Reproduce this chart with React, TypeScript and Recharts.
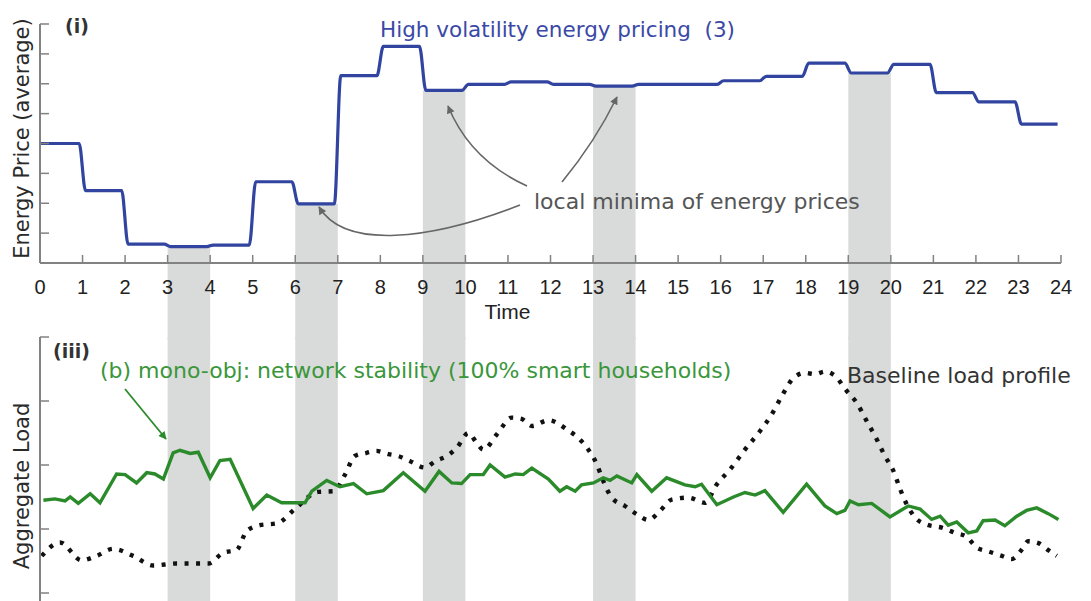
import { LineChart, Line, XAxis, YAxis, ReferenceArea, Label } from "recharts";

// average energy price per hour (hour 0..23)
const priceHours = [0, 1, 2, 3, 4, 5, 6, 7, 8, 9, 10, 11, 12, 13, 14, 15, 16, 17, 18, 19, 20, 21, 22, 23];
const hourlyPrice = [
  4.0, 2.42, 0.63, 0.55, 0.6, 2.72, 1.98, 6.27, 7.25, 5.78, 5.98, 6.06,
  5.98, 5.92, 5.98, 5.98, 6.1, 6.25, 6.69, 6.36, 6.65, 5.7, 5.39, 4.65,
];

// hours where the price has a local minimum (shaded windows)
const minimaStarts = [3, 6, 9, 13, 19];

const hourTicks = [0, 1, 2, 3, 4, 5, 6, 7, 8, 9, 10, 11, 12, 13, 14, 15, 16, 17, 18, 19, 20, 21, 22, 23, 24];
const priceTicks = [0, 1, 2, 3, 4, 5, 6, 7, 8];
const loadTicks = [0, 1, 2, 3, 4];

// (b) mono-obj: network stability, 100% smart households
const smartTimes = [
  0.08, 0.35, 0.59, 0.71, 0.9, 1.18, 1.41, 1.8, 2.0, 2.27, 2.51, 2.7, 2.9, 3.13, 3.29, 3.53, 3.72, 4.0,
  4.23, 4.47, 5.01, 5.33, 5.68, 6.23, 6.39, 6.74, 7.05, 7.37, 7.68, 8.07, 8.54, 9.05, 9.38, 9.68, 9.91,
  10.11, 10.42, 10.58, 10.93, 11.17, 11.36, 11.56, 11.95, 12.22, 12.38, 12.58, 12.73, 13.01, 13.24,
  13.4, 13.56, 13.91, 14.03, 14.38, 14.73, 15.16, 15.4, 15.55, 15.91, 16.3, 16.57, 16.81, 17.04, 17.47,
  18.02, 18.45, 18.73, 18.92, 19.04, 19.24, 19.55, 19.98, 20.41, 20.69, 20.96, 21.16, 21.35, 21.55,
  21.82, 22.02, 22.17, 22.45, 22.68, 22.96, 23.19, 23.43, 23.7, 23.94,
];
const smartLoad = [
  1.45, 1.47, 1.44, 1.5, 1.4, 1.55, 1.41, 1.86, 1.85, 1.72, 1.88, 1.86, 1.78, 2.19, 2.23, 2.18, 2.2, 1.8,
  2.07, 2.09, 1.32, 1.53, 1.41, 1.41, 1.59, 1.76, 1.66, 1.71, 1.55, 1.6, 1.88, 1.59, 1.9, 1.72, 1.71,
  1.85, 1.85, 2.0, 1.81, 1.86, 1.85, 1.95, 1.78, 1.59, 1.66, 1.59, 1.69, 1.72, 1.8,
  1.76, 1.83, 1.72, 1.85, 1.59, 1.8, 1.69, 1.66, 1.7, 1.38, 1.5, 1.57, 1.53, 1.6, 1.26,
  1.7, 1.36, 1.24, 1.29, 1.44, 1.38, 1.4, 1.19, 1.36, 1.31, 1.15, 1.2, 1.06, 1.11,
  0.94, 0.97, 1.13, 1.14, 1.05, 1.2, 1.29, 1.33, 1.24, 1.15,
];

// baseline load profile
const baselineTimes = [
  0.04, 0.47, 0.98, 1.33, 1.72, 2.19, 2.66, 3.21, 3.96, 4.31, 4.62, 4.86, 5.17, 5.58, 5.99, 6.54, 6.9,
  7.17, 7.4, 7.68, 7.91, 8.19, 8.42, 8.7, 9.05, 9.29, 9.56, 9.8, 10.07, 10.26, 10.42, 10.74, 11.09,
  11.32, 11.56, 11.95, 12.42, 12.69, 12.89, 13.09, 13.24, 13.44, 13.75, 14.03, 14.3, 14.57, 14.85,
  15.24, 15.63, 15.91, 16.22, 16.57, 16.89, 17.2, 17.44, 17.71, 17.98, 18.22, 18.45, 18.69, 18.96,
  19.2, 19.43, 19.67, 19.86, 20.06, 20.22, 20.37, 20.57, 20.84, 21.2, 21.51, 21.78, 22.02, 22.29,
  22.61, 22.84, 23.08, 23.23, 23.47, 23.7, 23.9,
];
const baselineLoad = [
  0.58, 0.79, 0.51, 0.58, 0.69, 0.58, 0.43, 0.46, 0.46, 0.63, 0.67, 0.97, 1.06, 1.09, 1.31, 1.58, 1.59,
  1.85, 2.14, 2.19, 2.22, 2.17, 2.14, 2.06, 1.96, 2.06, 2.14, 2.27, 2.5, 2.35, 2.24, 2.48, 2.74,
  2.72, 2.61, 2.7, 2.54, 2.4, 2.24, 2.01, 1.75, 1.49, 1.36, 1.23, 1.14, 1.28, 1.46,
  1.49, 1.41, 1.7, 1.93, 2.24, 2.5, 2.79, 3.08, 3.36, 3.44, 3.42, 3.46, 3.39, 3.16,
  2.97, 2.69, 2.4, 2.14, 1.91, 1.62, 1.39, 1.18, 1.07, 1.02, 0.94, 0.88, 0.71, 0.65,
  0.58, 0.53, 0.68, 0.81, 0.78, 0.67, 0.58,
];

// each hourly price is held flat across its hour
const priceData = priceHours.flatMap((h, i) => [
  { t: i === 0 ? 0 : h + 0.07, price: hourlyPrice[i] },
  { t: h + 0.92, price: hourlyPrice[i] },
]);
const smartData = smartTimes.map((t, i) => ({ t, load: smartLoad[i] }));
const baselineData = baselineTimes.map((t, i) => ({ t, load: baselineLoad[i] }));

const TEXT_FONT = "'DejaVu Sans', sans-serif";
const TICK_FONT = "'Liberation Sans', Arial, sans-serif";
const BLUE = "#3044a0";
const GREEN = "#2b8b2b";
const BAND = "#d9dbda";
const AXIS = "#828282";
const noLabel = () => "";

export default function App() {
  return (
    <div
      style={{
        position: "absolute",
        left: 0,
        top: 0,
        width: 1091,
        height: 601,
        background: "#fff",
        overflow: "hidden",
      }}
    >
      {/* (iii) aggregate load */}
      <div style={{ position: "absolute", left: 0, top: 330 }}>
        <LineChart width={1091} height={271} margin={{ top: 7, right: 30, bottom: 0, left: 0 }}>
          {minimaStarts.map((h) => (
            <ReferenceArea key={h} x1={h} x2={h + 1} fill={BAND} fillOpacity={1} stroke="none" />
          ))}
          <XAxis dataKey="t" type="number" domain={[0, 24]} hide />
          <YAxis
            type="number"
            domain={[-0.125, 4]}
            ticks={loadTicks}
            width={40}
            tickFormatter={noLabel}
            tickSize={-9}
            axisLine={{ stroke: AXIS, strokeWidth: 2 }}
            tickLine={{ stroke: AXIS, strokeWidth: 1.5 }}
          >
            <Label
              value="Aggregate Load"
              angle={-90}
              position="insideLeft"
              offset={22}
              dy={17}
              style={{ textAnchor: "middle", fontFamily: TEXT_FONT, fontSize: 21, fill: "#2a2a2a" }}
            />
          </YAxis>
          <Line
            data={baselineData}
            dataKey="load"
            type="monotone"
            stroke="#111"
            strokeWidth={4.4}
            strokeDasharray="4 7.5"
            dot={false}
            isAnimationActive={false}
          />
          <Line
            data={smartData}
            dataKey="load"
            type="linear"
            stroke={GREEN}
            strokeWidth={3.4}
            dot={false}
            isAnimationActive={false}
          />
        </LineChart>
      </div>

      {/* (i) energy price */}
      <div style={{ position: "absolute", left: 0, top: 0 }}>
        <LineChart width={1091} height={340} margin={{ top: 24, right: 30, bottom: 0, left: 0 }}>
          {minimaStarts.map((h) => (
            <ReferenceArea
              key={h}
              x1={h}
              x2={h + 1}
              y1={-2.6}
              y2={hourlyPrice[h]}
              ifOverflow="visible"
              fill={BAND}
              fillOpacity={1}
              stroke="none"
            />
          ))}
          <XAxis
            dataKey="t"
            type="number"
            domain={[0, 24]}
            ticks={hourTicks}
            interval={0}
            height={77}
            tickSize={-8}
            tickMargin={25}
            axisLine={{ stroke: AXIS, strokeWidth: 2 }}
            tickLine={{ stroke: AXIS, strokeWidth: 1.5 }}
            tick={{ fontFamily: TICK_FONT, fontSize: 20, fill: "#222" }}
          >
            <Label
              value="Time"
              position="insideTop"
              offset={41}
              dx={-43}
              style={{ fontFamily: TICK_FONT, fontSize: 21, fill: "#222" }}
            />
          </XAxis>
          <YAxis
            type="number"
            domain={[0, 8]}
            ticks={priceTicks}
            width={40}
            tickFormatter={noLabel}
            tickSize={-9}
            axisLine={{ stroke: AXIS, strokeWidth: 2 }}
            tickLine={{ stroke: AXIS, strokeWidth: 1.5 }}
          >
            <Label
              value="Energy Price (average)"
              angle={-90}
              position="insideLeft"
              offset={22}
              dy={-5}
              style={{ textAnchor: "middle", fontFamily: TEXT_FONT, fontSize: 21, fill: "#2a2a2a" }}
            />
          </YAxis>
          <Line
            data={priceData}
            dataKey="price"
            type="monotone"
            stroke={BLUE}
            strokeWidth={3.2}
            dot={false}
            isAnimationActive={false}
          />
        </LineChart>
      </div>

      {/* annotations */}
      <svg
        width={1091}
        height={601}
        style={{ position: "absolute", left: 0, top: 0, pointerEvents: "none" }}
      >
        <defs>
          <marker id="greyHead" viewBox="0 0 10 10" refX="9" refY="5" markerWidth="11" markerHeight="8" markerUnits="userSpaceOnUse" orient="auto">
            <path d="M0,0 L10,5 L0,10 z" fill="#666" />
          </marker>
          <marker id="greenHead" viewBox="0 0 10 10" refX="9" refY="5" markerWidth="11" markerHeight="8" markerUnits="userSpaceOnUse" orient="auto">
            <path d="M0,0 L10,5 L0,10 z" fill={GREEN} />
          </marker>
        </defs>
        <g fontFamily={TEXT_FONT}>
          <text x={65} y={33} fontSize={19} fontWeight="bold" fill="#333">(i)</text>
          <text x={380} y={37} fontSize={21.5} fill="#3a49a6" xmlSpace="preserve">High volatility energy pricing  (3)</text>
          <text x={534} y={209} fontSize={22} fill="#555">local minima of energy prices</text>
          <path d="M527,186 Q470,160 448,106" fill="none" stroke="#666" strokeWidth={1.6} markerEnd="url(#greyHead)" />
          <path d="M562,182 Q595,142 617,97" fill="none" stroke="#666" strokeWidth={1.6} markerEnd="url(#greyHead)" />
          <path d="M520,205 C430,240 345,250 319,207" fill="none" stroke="#666" strokeWidth={1.6} markerEnd="url(#greyHead)" />

          <text x={53} y={358} fontSize={19} fontWeight="bold" fill="#333">(iii)</text>
          <text x={100} y={378} fontSize={22} fill="#3a963a">(b) mono-obj: network stability (100% smart households)</text>
          <path d="M125,389 L166,439" fill="none" stroke={GREEN} strokeWidth={1.8} markerEnd="url(#greenHead)" />
          <text x={847} y={383} fontSize={22} fill="#333">Baseline load profile</text>
        </g>
      </svg>
    </div>
  );
}
